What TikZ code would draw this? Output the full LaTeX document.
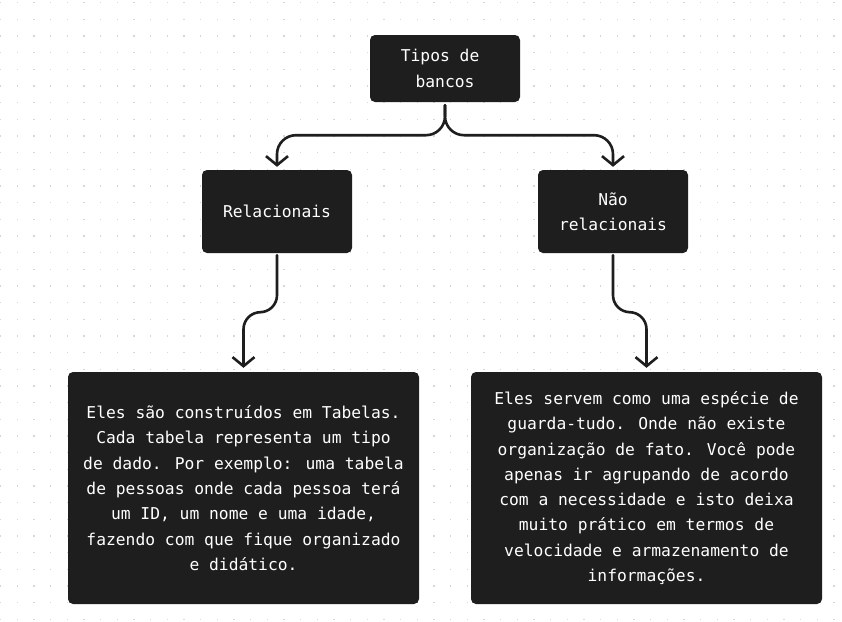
\documentclass[tikz,border=0pt]{standalone}
\usepackage{fontspec}
\setmainfont{DejaVu Sans Mono}
\usetikzlibrary{arrows.meta}
\definecolor{ink}{HTML}{1E1E1E}
\definecolor{dotc}{HTML}{D6D6D6}
\tikzset{
  box/.style={fill=ink, draw=none, rounded corners=5pt, text=white, align=center,
    inner sep=0pt, font=\fontsize{16.3}{25.3}\selectfont},
  conn/.style={draw=ink, line width=2.6pt, line cap=round, line join=round,
    rounded corners=19pt, -{Straight Barb[length=9pt,width=22pt,line width=2.6pt]}},
}
\begin{document}
\begin{tikzpicture}[x=1pt,y=-1pt]
\useasboundingbox (0,0) rectangle (842,621);
\fill[white] (0,0) rectangle (842,621);
\foreach \i in {0,...,50}{
  \foreach \j in {0,...,37}{
    \fill[dotc] ({0.7+16.667*\i-0.7},{2.7+16.667*\j-0.7}) rectangle ++(1.4,1.4);
  }
}
\node[box, minimum width=150pt, minimum height=67pt] (top) at (445,68.5) {Tipos de\hphantom{x}\\bancos};
\node[box, minimum width=150pt, minimum height=83pt] (rel) at (277,211.5) {Relacionais};
\node[box, minimum width=150pt, minimum height=83pt] (nrel) at (613,211.5) {Não\\relacionais};
\node[box, minimum width=351pt, minimum height=232pt] (lbox) at (243.5,488) {Eles são construídos em Tabelas.\\Cada tabela representa um tipo\\de dado. Por exemplo: uma tabela\\de pessoas onde cada pessoa terá\\um ID, um nome e uma idade,\\fazendo com que fique organizado\\e didático.};
\node[box, minimum width=351pt, minimum height=232pt] (rbox) at (646.5,488) {Eles servem como uma espécie de\\guarda-tudo. Onde não existe\\organização de fato. Você pode\\apenas ir agrupando de acordo\\com a necessidade e isto deixa\\muito prático em termos de\\velocidade e armazenamento de\\informações.};
\draw[conn] ([yshift=-3pt]top.south) -- ++(0,30) -| ([yshift=3pt]rel.north);
\draw[conn] ([yshift=-3pt]top.south) -- ++(0,30) -| ([yshift=3pt]nrel.north);
\draw[conn, rounded corners=17pt] ([yshift=-2pt]rel.south) -- ++(0,57) -| ([yshift=4pt]lbox.north);
\draw[conn, rounded corners=17pt] ([yshift=-2pt]nrel.south) -- ++(0,57) -| ([yshift=4pt]rbox.north);
\end{tikzpicture}
\end{document}
